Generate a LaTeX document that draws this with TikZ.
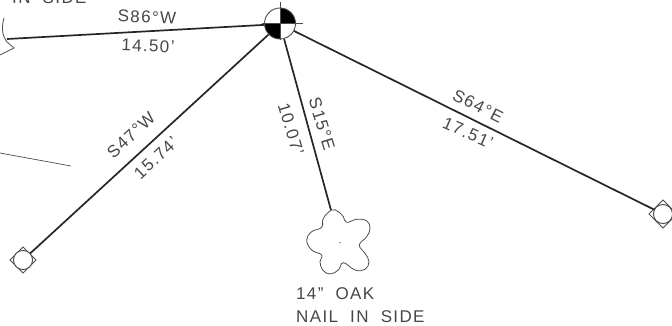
\documentclass[tikz,border=0pt]{standalone}
\usepackage{fontspec}
\defaultfontfeatures{}
\setmainfont[LetterSpace=8,WordSpace=2]{Liberation Sans}
\tikzset{
  survey/.style={line width=1.7pt,draw=black!85},
  thinline/.style={line width=0.7pt,draw=black!70},
  lbl/.style={inner sep=0pt,text=black!72,font=\fontsize{17}{17}\selectfont},
  monument/.style={circle,draw=black!70,line width=0.8pt,minimum size=19pt,inner sep=0pt,fill=white},
  crown/.style={circle,minimum size=68pt,inner sep=0pt},
  controlpt/.style={circle,minimum size=31pt,inner sep=0pt}
}
\begin{document}
\begin{tikzpicture}[x=1pt,y=-1pt]
\useasboundingbox (0,0) rectangle (672,325);
\clip (0,0) rectangle (672,325);
% nodes
\node[controlpt] (cp) at (280,24) {};
\node[monument] (mw) at (23,260) {};
\node[monument] (me) at (663,214) {};
\node[crown] (oak) at (340,243) {};
\coordinate (west) at (7,39);
\coordinate (fl) at (0,153);
\coordinate (fr) at (71,166);
% monuments diamonds
\draw[thinline,line width=0.9pt] (23,247)--(36,260)--(23,273)--(10,260)--cycle;
\draw[thinline,line width=0.9pt] (663,200)--(677,214)--(663,228)--(649,214)--cycle;
\node[monument] at (23,260) {};
\node[monument] at (663,214) {};
% connectors
\draw[survey] (cp) -- (west);
\draw[survey] (cp) -- (mw);
\draw[survey] (cp) -- (oak);
\draw[survey] (cp) -- (me);
\draw[thinline] (fl) -- (fr);
% control point
\fill[black] (280,23.5) -- (280,8) arc (-90:0:15.5) -- cycle;
\fill[black] (280,23.5) -- (264.5,23.5) arc (180:90:15.5) -- cycle;
\draw[thinline,line width=0.9pt] (280,23.5) circle (15.5);
\draw[thinline,line width=0.9pt] (280,2) -- (280,40);
\draw[thinline,line width=0.9pt] (262,23.5) -- (303,23.5);
% oak crown
\begin{scope}[shift={(270,190)},x=0.33333pt,y=-0.33333pt]
\draw[thinline,line width=0.8pt] plot[smooth cycle,tension=0.7] coordinates {
(185,60)(205,65)(220,80)(230,97)(260,88)(290,92)(300,115)(290,140)(268,165)(285,190)(297,215)(285,238)(255,240)(220,218)(205,240)(180,252)(158,240)(150,215)(155,195)(125,180)(110,150)(125,125)(155,112)(160,85)};
\fill[black!70] (210,158) circle (2.2);
\end{scope}
% left tree fragment
\draw[thinline,line width=0.8pt] (4,18) .. controls (2,26) and (1,34) .. (7,42) -- (14,48) -- (0,55);
% labels
\node[lbl,rotate=-2] (a1) at (147,17) {S86°W};
\node[lbl,rotate=-2] (a2) at (148,46) {14.50'};
\node[lbl,rotate=43] (b1) at (131,135) {S47°W};
\node[lbl,rotate=43] (b2) at (156,158) {15.74'};
\node[lbl,rotate=-73] (c1) at (322,124) {S15°E};
\node[lbl,rotate=-73] (c2) at (291,129) {10.07'};
\node[lbl,rotate=-27] (d1) at (478,106) {S64°E};
\node[lbl,rotate=-24] (d2) at (468,133) {17.51'};
\node[lbl,anchor=base west] (e1) at (296,299) {14" OAK};
\node[lbl,anchor=base west] (e2) at (296,322) {NAIL IN SIDE};
\node[lbl,anchor=base west] (e3) at (12,3) {IN SIDE};
\end{tikzpicture}
\end{document}
